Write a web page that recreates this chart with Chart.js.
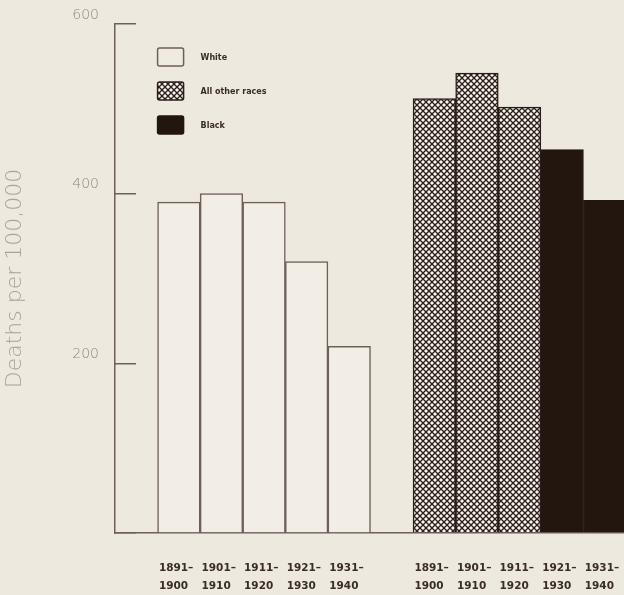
<!DOCTYPE html>
<html>
<head>
<meta charset="utf-8">
<script src="https://cdn.jsdelivr.net/npm/chart.js@4.4.1/dist/chart.umd.min.js"></script>
<style>
  html, body { margin: 0; padding: 0; overflow: hidden; background: #ede9de; }
  #wrap { width: 626px; height: 595px; position: relative; }
</style>
</head>
<body>
<div id="wrap"><canvas id="deathsChart"></canvas></div>
<script>
// Periods (two-line tick labels)
const periods = [
    ['1891–', '1900'],
    ['1901–', '1910'],
    ['1911–', '1920'],
    ['1921–', '1930'],
    ['1931–', '1940']
];
// Deaths per 100,000
const whiteRates = [390, 400, 390, 320, 220];
const otherRaceRates = [512, 542, 502];   // 1891-1920
const blackRates = [452, 392];            // 1921-1940
const yTicks = [0, 200, 400, 600];

const lineColor = '#6e5e5c';
const darkColor = '#22160f';

// crosshatch fill for "All other races"
function makeHatch() {
    const c = document.createElement('canvas');
    c.width = 6;
    c.height = 6;
    const g = c.getContext('2d');
    g.fillStyle = '#f8f5ee';
    g.fillRect(0, 0, 6, 6);
    g.strokeStyle = '#2a1c18';
    g.lineWidth = 1.35;
    g.beginPath();
    g.moveTo(-1, -1); g.lineTo(7, 7);
    g.moveTo(7, -1); g.lineTo(-1, 7);
    g.stroke();
    return g.createPattern(c, 'repeat');
}
const hatch = makeHatch();

// one empty slot before each group
const labels = [''].concat(periods, [''], periods);
const whiteData = [null].concat(whiteRates, [null], periods.map(() => null));
const otherData = [null].concat(periods.map(() => null), [null], otherRaceRates, blackRates.map(() => null));
const blackData = [null].concat(periods.map(() => null), [null], otherRaceRates.map(() => null), blackRates);

// no extra room for overflowing labels, the plot keeps its own box
function noPadding(s) {
    s.paddingTop = 0;
    s.paddingBottom = 0;
    s.paddingLeft = 0;
    s.paddingRight = 0;
}

// legend drawn inside the plot, top-left
const insideLegend = {
    id: 'insideLegend',
    afterDatasetsDraw(chart) {
        const ctx = chart.ctx;
        const x0 = chart.scales.x.getPixelForValue(1) - chart.scales.x.width / labels.length / 2;
        const rows = [57, 91, 125];
        ctx.save();
        chart.data.datasets.forEach(function (ds, i) {
            const y = rows[i];
            ctx.beginPath();
            ctx.roundRect(x0, y - 9, 26, 18, 2);
            ctx.fillStyle = i === 0 ? '#efebe1' : ds.backgroundColor;
            ctx.fill();
            ctx.lineWidth = 1.5;
            ctx.strokeStyle = ds.borderColor;
            ctx.stroke();
            ctx.fillStyle = '#3a2c2a';
            ctx.font = 'bold 8px "DejaVu Sans"';
            ctx.textBaseline = 'middle';
            ctx.fillText(ds.label, x0 + 43, y + 1);
        });
        ctx.restore();
    }
};

const ctx = document.getElementById('deathsChart').getContext('2d');
const deathsChart = new Chart(ctx, {
    type: 'bar',
    data: {
        labels: labels,
        datasets: [
            {label: 'White', data: whiteData, backgroundColor: '#f2eee5', borderColor: lineColor, borderWidth: 1.5},
            {label: 'All other races', data: otherData, backgroundColor: hatch, borderColor: '#2a1c18', borderWidth: 1.5},
            {label: 'Black', data: blackData, backgroundColor: darkColor, borderColor: darkColor, borderWidth: 1}
        ]
    },
    options: {
        responsive: true,
        maintainAspectRatio: false,
        animation: false,
        datasets: {bar: {barPercentage: 1, categoryPercentage: 1}},
        layout: {padding: {top: 24, left: 0, right: 0, bottom: 0}},
        plugins: {legend: {display: false}, tooltip: {enabled: false}},
        scales: {
            x: {
                stacked: true,
                grid: {drawOnChartArea: false, drawTicks: false},
                border: {color: lineColor, width: 1.5},
                ticks: {
                    align: 'start',
                    labelOffset: -20,
                    padding: 27,
                    color: '#3a2c2a',
                    autoSkip: false,
                    maxRotation: 0,
                    font: {family: 'DejaVu Sans', size: 10.5, weight: 'bold', lineHeight: 1.65}
                },
                afterFit: s => { s.height = 62; noPadding(s); }
            },
            y: {
                stacked: true,
                min: 0,
                max: 600,
                afterBuildTicks: s => { s.ticks = yTicks.map(v => ({value: v})); },
                grid: {drawOnChartArea: false, tickLength: -21, color: lineColor, lineWidth: 1.5},
                border: {color: lineColor, width: 1.5},
                ticks: {
                    padding: 37,
                    labelOffset: -9,
                    color: '#8f867e',
                    font: {family: 'DejaVu Sans', size: 14, weight: '300'},
                    callback: v => v === 0 ? '' : v
                },
                title: {
                    display: true,
                    text: 'Deaths per 100,000',
                    color: '#aba298',
                    padding: {top: 2, bottom: 0},
                    font: {family: 'DejaVu Sans', size: 22, weight: '300'}
                },
                afterFit: s => { s.width = 115; noPadding(s); }
            }
        }
    },
    plugins: [insideLegend]
});
</script>
</body>
</html>
